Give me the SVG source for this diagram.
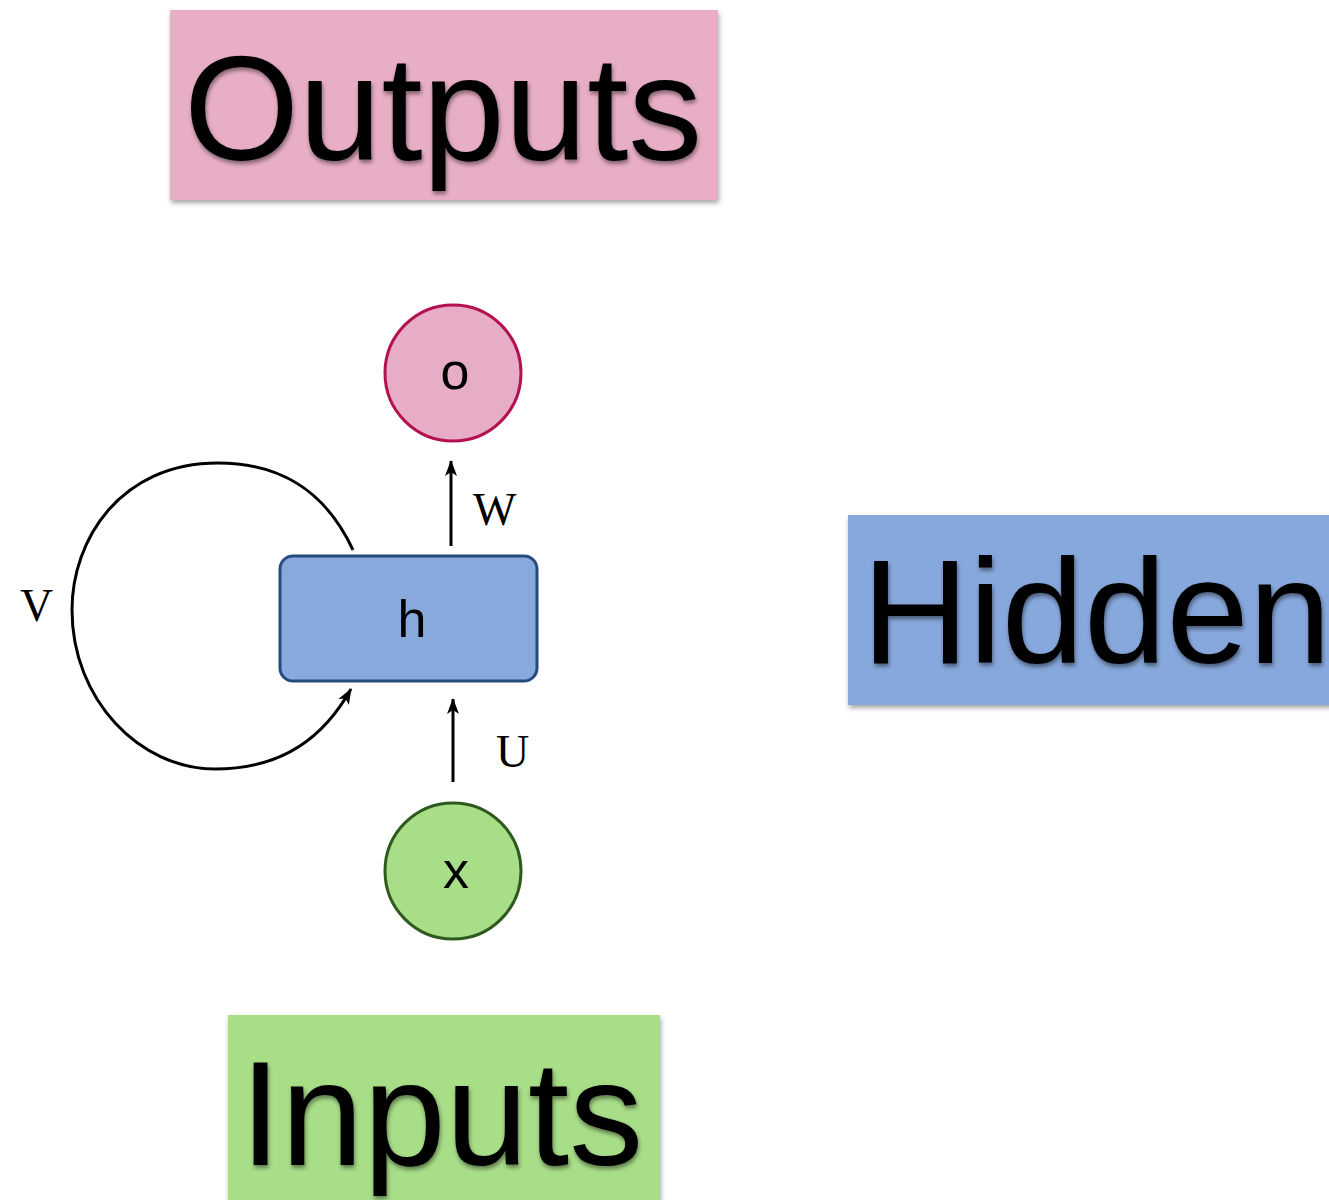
<svg xmlns="http://www.w3.org/2000/svg" width="1329" height="1200" viewBox="0 0 1329 1200">
  <defs>
    <filter id="shadow" x="-5%" y="-5%" width="115%" height="120%">
      <feDropShadow dx="1" dy="3" stdDeviation="2.5" flood-color="#000" flood-opacity="0.35"/>
    </filter>
    <filter id="tshadow" x="-5%" y="-5%" width="115%" height="120%">
      <feDropShadow dx="1" dy="3" stdDeviation="2" flood-color="#000" flood-opacity="0.45"/>
    </filter>
    <marker id="arrow" viewBox="0 0 16 14" refX="15" refY="7" markerWidth="16" markerHeight="14" markerUnits="userSpaceOnUse" orient="auto">
      <path d="M0,1 L16,7 L0,13 L4,7 Z" fill="#000"/>
    </marker>
  </defs>
  <style>
    .banner { font-family: "Liberation Sans", Arial, sans-serif; font-size: 148px; fill: #000; }
    .node-label { font-family: "Liberation Sans", Arial, sans-serif; font-size: 52px; fill: #000; text-anchor: middle; }
    .edge-label { font-family: "Liberation Serif", "Times New Roman", serif; font-size: 46px; fill: #000; }
    .edge { fill: none; stroke: #000; stroke-width: 3; }
  </style>

  <rect width="1329" height="1200" fill="#fff"/>

  <!-- Legend banners -->
  <g id="banner-outputs">
    <rect x="170" y="10" width="548" height="190" fill="#e8aec6" filter="url(#shadow)"/>
    <text class="banner" x="184" y="160" filter="url(#tshadow)">Outputs</text>
  </g>
  <g id="banner-hidden">
    <rect x="848" y="515" width="490" height="190" fill="#87a8dc" filter="url(#shadow)"/>
    <text class="banner" x="862" y="663" filter="url(#tshadow)">Hidden</text>
  </g>
  <g id="banner-inputs">
    <rect x="228" y="1015" width="432" height="200" fill="#a8de88" filter="url(#shadow)"/>
    <text class="banner" x="240" y="1165" filter="url(#tshadow)">Inputs</text>
  </g>

  <!-- RNN cell -->
  <g id="node-o">
    <circle cx="453" cy="373" r="68" fill="#e8adc6" stroke="#b3114f" stroke-width="3"/>
    <text class="node-label" x="455" y="389">o</text>
  </g>
  <g id="node-h">
    <rect x="280" y="556" width="257" height="125" rx="13" fill="#87a9dc" stroke="#264c7e" stroke-width="3"/>
    <text class="node-label" x="412" y="637">h</text>
  </g>
  <g id="node-x">
    <circle cx="453" cy="871" r="68" fill="#a8de88" stroke="#2f5a1e" stroke-width="3"/>
    <text class="node-label" x="456" y="888">x</text>
  </g>

  <g id="connectors">
    <line class="edge" x1="451" y1="546" x2="451" y2="461" marker-end="url(#arrow)"/>
    <line class="edge" x1="453" y1="782" x2="453" y2="699" marker-end="url(#arrow)"/>
    <path class="edge" d="M353,550 C325,490 280,463 218,463 C120,463 72,540 72,610 C72,700 140,769 215,769 C285,769 325,735 351,689" marker-end="url(#arrow)"/>
    <text class="edge-label" x="473" y="525">W</text>
    <text class="edge-label" x="496" y="767">U</text>
    <text class="edge-label" x="20" y="621">V</text>
  </g>
</svg>
